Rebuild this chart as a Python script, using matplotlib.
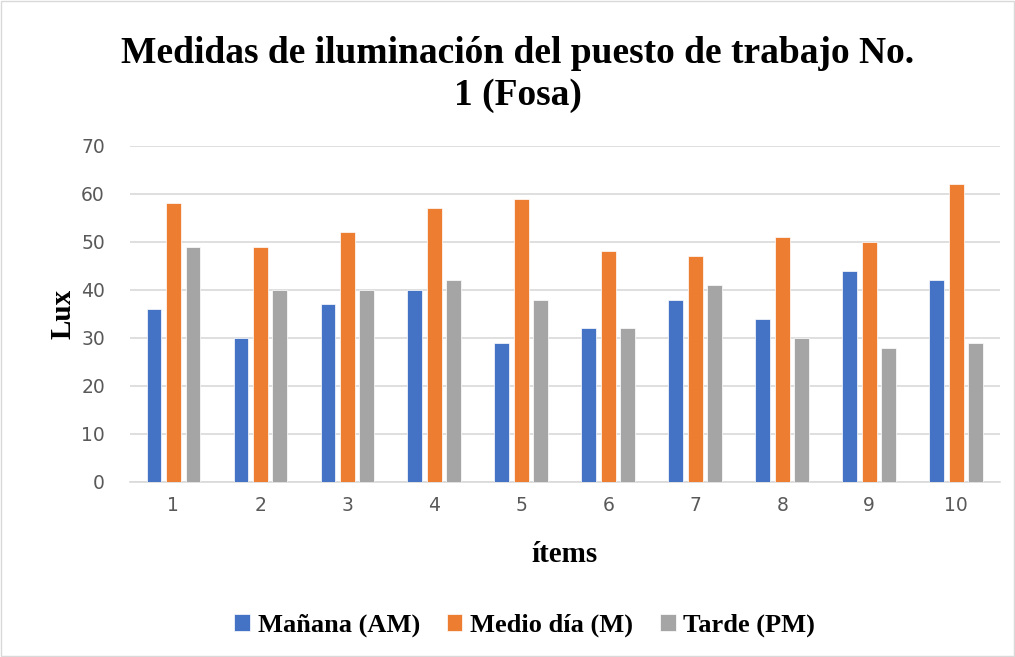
import matplotlib
matplotlib.use("Agg")
import matplotlib.pyplot as plt
import numpy as np
from matplotlib.patches import Rectangle

items = ["1", "2", "3", "4", "5", "6", "7", "8", "9", "10"]
manana = [36, 30, 37, 40, 29, 32, 38, 34, 44, 42]
medio = [58, 49, 52, 57, 59, 48, 47, 51, 50, 62]
tarde = [49, 40, 40, 42, 38, 32, 41, 30, 28, 29]
series_names = ["Mañana (AM)", "Medio día (M)", "Tarde (PM)"]
colors = ["#4472C4", "#ED7D31", "#A5A5A5"]

fig = plt.figure(figsize=(10.15, 6.57), dpi=100)
fig.patches.append(Rectangle((0.001, 0.001), 0.998, 0.998, transform=fig.transFigure,
                             fill=False, edgecolor="#d9d9d9", linewidth=1))
ax = fig.add_axes([0.128, 0.2664, 0.857, 0.5116])

x = np.arange(len(items))
w = 0.17
step = 0.224
for i, (vals, c, n) in enumerate(zip([manana, medio, tarde], colors, series_names)):
    ax.bar(x + (i - 1) * step, vals, width=w, color=c, label=n, zorder=3,
           edgecolor="white", linewidth=0.5)

ax.set_xlim(-0.5, len(items) - 0.5)
ax.set_ylim(0, 70)
ax.set_yticks(range(0, 71, 10))
ax.set_xticks(x)
ax.set_xticklabels(items)
ax.yaxis.grid(True, color="#d9d9d9", linewidth=1.2, zorder=0)
ax.set_axisbelow(True)
for s in ["top", "right", "left"]:
    ax.spines[s].set_visible(False)
ax.spines["bottom"].set_color("#d9d9d9")
ax.spines["bottom"].set_linewidth(1.2)
ax.tick_params(axis="both", length=0, colors="#595959", labelsize=13.5, pad=10)
ax.tick_params(axis="y", pad=18)

serif = ["Liberation Serif", "DejaVu Serif"]
fig.text(0.51, 0.886, "Medidas de iluminación del puesto de trabajo No.\n1 (Fosa)",
         ha="center", va="center", fontsize=27, fontweight="bold", family=serif,
         linespacing=1.25)
ax.set_ylabel("Lux", fontsize=21, fontweight="bold", family=serif, labelpad=3, color="black")
ax.set_xlabel("ítems", fontsize=21, fontweight="bold", family=serif, labelpad=19, color="black")

leg = fig.legend(loc="center", bbox_to_anchor=(0.517, 0.048), ncol=3, frameon=False,
                 prop={"family": serif, "weight": "bold", "size": 19},
                 handlelength=0.6, handleheight=0.6, handletextpad=0.3, columnspacing=1.0)

fig.savefig("out.png", dpi=100)
